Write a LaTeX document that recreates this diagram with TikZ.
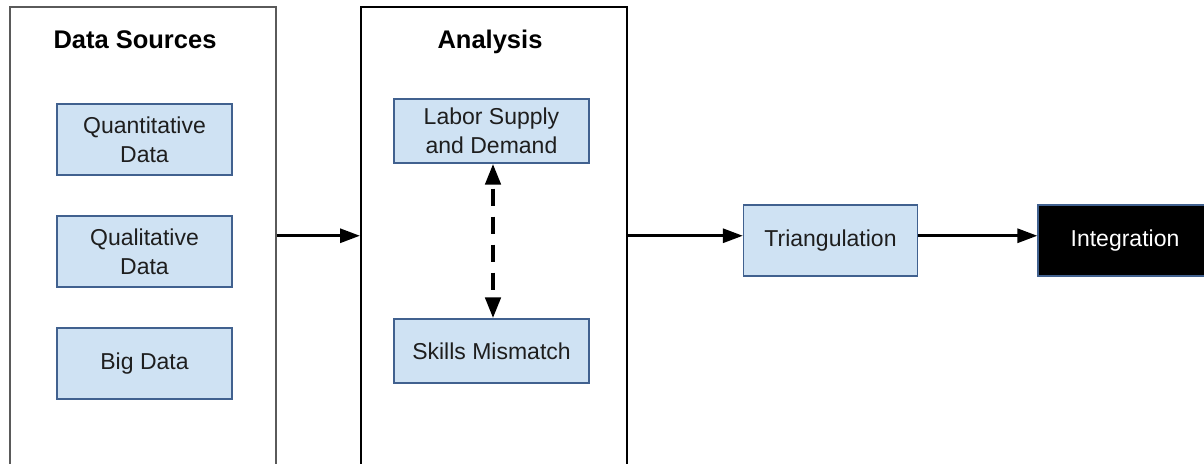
\documentclass[tikz,border=0pt]{standalone}
\usepackage{fontspec}
\setmainfont{Liberation Sans}
\usetikzlibrary{arrows.meta,calc}
\definecolor{boxfill}{HTML}{CFE2F3}
\definecolor{boxline}{HTML}{41618F}
\definecolor{txt}{HTML}{1E1E1E}
\definecolor{frame}{HTML}{5A5A5A}
\tikzset{
  container/.style={draw=#1, line width=1.5pt, fill=white, minimum width=266pt,
    minimum height=458pt, anchor=north west, inner sep=0pt},
  title/.style={font=\fontsize{25.5}{30}\selectfont\bfseries, text=black, anchor=base},
  item/.style={draw=boxline, line width=1.3pt, fill=boxfill, text=txt,
    minimum width=175pt, minimum height=71pt, inner sep=0pt, align=center,
    font=\fontsize{23}{29}\selectfont},
  flow/.style={line width=3pt, -{Triangle[length=20pt,width=14pt]}},
  link/.style={line width=4.5pt, dash pattern=on 17pt off 11pt, dash phase=23pt,
    {Triangle[length=21pt,width=15pt]}-{Triangle[length=21pt,width=15pt]}},
}
\begin{document}
\begin{tikzpicture}[x=1pt,y=-1pt]
  \useasboundingbox (0,0) rectangle (1204,463);
  \clip (0,0) rectangle (1204,463);

  % two framed columns
  \node[container=frame] (ds) at (9,6) {};
  \node[container=black] (an) at (360,6) {};
  \node[title] (dst) at (135,48) {Data Sources};
  \node[title] (ant) at (490,48) {Analysis};

  % data sources
  \node[item] (quant) at (144.5,139.5) {Quantitative\\Data};
  \node[item] (qual)  at (144.5,251.5) {Qualitative\\Data};
  \node[item] (big)   at (144.5,363.5) {Big Data};

  % analysis
  \node[item, minimum width=195pt, minimum height=64pt] (lab) at (491.5,131) {Labor Supply\\and Demand};
  \node[item, minimum width=195pt, minimum height=64pt] (skl) at (491.5,351) {Skills Mismatch};

  % outputs
  \node[item, minimum width=174pt] (tri) at (830.5,240.5) {Triangulation};
  \node[item, draw=boxline, fill=black, text=white, minimum width=174pt] (int) at (1125,240.5) {Integration};

  % connectors
  \draw[flow] (ds.east) -- (an.west);
  \draw[flow] (an.east) -- (an.east -| tri.west);
  \draw[flow] (tri.east |- an.east) -- (int.west |- an.east);
  \draw[link] ([xshift=1.5pt]lab.south) -- ([xshift=1.5pt]skl.north);
\end{tikzpicture}
\end{document}
